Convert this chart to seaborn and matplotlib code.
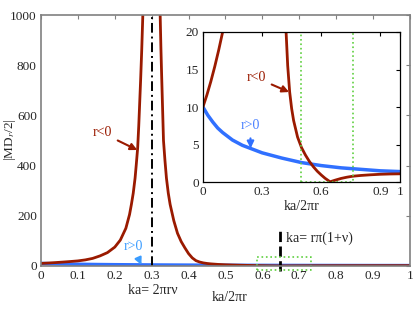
import numpy as np
import matplotlib
matplotlib.use("Agg")
import matplotlib.pyplot as plt
import seaborn as sns

# Данные
ka_red = [0.0, 0.02, 0.04, 0.06, 0.08, 0.1, 0.12, 0.14, 0.16, 0.18, 0.2, 0.215,
          0.23, 0.24, 0.245, 0.25, 0.255, 0.258, 0.262, 0.265, 0.27, 0.273, 0.276, 0.285,
          0.318, 0.323, 0.325, 0.327, 0.332, 0.336, 0.34, 0.345, 0.35, 0.36, 0.37,
          0.38, 0.39, 0.40, 0.41, 0.42, 0.43, 0.44, 0.45, 0.46, 0.48, 0.50, 0.52,
          0.54, 0.56, 0.58, 0.60, 0.62, 0.645, 0.67, 0.70, 0.73, 0.76, 0.80, 0.85,
          0.90, 0.95, 1.0]
md_red = [10, 11.6, 13.4, 15.4, 17.6, 20, 24, 30, 40, 53, 75, 103,
          150, 205, 245, 290, 350, 400, 470, 560, 740, 860, 1000, 1800,
          1800, 1000, 870, 760, 500, 420, 350, 290, 245, 180, 130,
          97, 72, 49, 32, 21, 15.5, 12, 9.8, 8.2, 6.0, 4.6, 3.6,
          2.75, 2.05, 1.45, 0.95, 0.5, 0.04, 0.25, 0.48, 0.65, 0.78, 0.88, 0.97,
          1.04, 1.08, 1.1]

ka_blue = [0.0, 0.025, 0.05, 0.075, 0.1, 0.15, 0.2, 0.25, 0.3, 0.4, 0.5, 0.6,
           0.7, 0.8, 0.9, 1.0]
md_blue = [10, 8.9, 8.0, 7.2, 6.6, 5.6, 4.9, 4.4, 3.9, 3.2, 2.6, 2.2,
           1.9, 1.7, 1.5, 1.4]

main_xticks = [0, 0.1, 0.2, 0.3, 0.4, 0.5, 0.6, 0.7, 0.8, 0.9, 1]
main_xlabels = ["0", "0.1", "0.2", "0.3", "0.4", "0.5", "0.6", "0.7", "0.8", "0.9", "1"]
main_yticks = [0, 200, 400, 600, 800, 1000]
inset_xticks = [0, 0.3, 0.6, 0.9, 1]
inset_xlabels = ["0", "0.3", "0.6", "0.9", "1"]
inset_yticks = [0, 5, 10, 15, 20]

RED = "#9a1a00"
BLUE = "#3070ff"
LBLUE = "#3a9cff"
GREEN = "#5fcf40"

sns.set_style("white")
plt.rcParams["font.family"] = ["Liberation Serif", "DejaVu Serif"]
plt.rcParams["mathtext.fontset"] = "stix"
plt.rcParams["font.size"] = 9.5

fig = plt.figure(figsize=(4.15, 3.2), dpi=100)
ax = fig.add_axes([0.0988, 0.169, 0.889, 0.784])

sns.lineplot(x=ka_blue, y=md_blue, color=BLUE, lw=2.5, ax=ax)
sns.lineplot(x=ka_red, y=md_red, color=RED, lw=2.0, ax=ax)
ax.axvline(0.3, color="k", lw=1.4, dashes=(5, 2, 1, 2))
ax.plot([0.649, 0.649], [-20, 151], "k--", lw=2, clip_on=False)
ax.plot([0.586, 0.731, 0.731, 0.586, 0.586], [-16, -16, 35, 35, -16], ":",
        color=GREEN, lw=1.2, clip_on=False)

ax.set_xlim(0, 1)
ax.set_ylim(0, 1000)
ax.set_xticks(main_xticks)
ax.set_xticklabels(main_xlabels)
ax.set_yticks(main_yticks)
ax.tick_params(direction="in", length=3, color="#808080", top=True, right=True,
               labelsize=9.5, pad=3)
for s in ax.spines.values():
    s.set_color("#808080")
    s.set_linewidth(1.2)
ax.set_xlabel("")
ax.set_ylabel("")
fig.text(10 / 415, 1 - 140 / 320, r"|MD$_r$/2|", rotation=90, ha="center",
         va="center", fontsize=9.5)

ax.text(0.512, -0.127, "ka/2πr", transform=ax.transAxes, ha="center", va="center",
        fontsize=10)
ax.text(0.303, -0.096, "ka= 2πrν", transform=ax.get_xaxis_transform(),
        ha="center", va="center", fontsize=10)
ax.text(0.663, 112, "ka= rπ(1+ν)", ha="left", va="center", fontsize=10)

ax.annotate("r<0", xy=(0.261, 462), xytext=(0.166, 530), color=RED,
            ha="center", va="center", fontsize=10,
            arrowprops=dict(arrowstyle="-|>", color=RED, lw=1.5, shrinkA=2, shrinkB=0))
ax.annotate("r>0", xy=(0.272, 4), xytext=(0.25, 76), color=LBLUE,
            ha="center", va="center", fontsize=10,
            arrowprops=dict(arrowstyle="-|>", color=LBLUE, lw=1.5, shrinkA=2, shrinkB=0))

# Вставка
axi = fig.add_axes([0.489, 0.431, 0.475, 0.469])
sns.lineplot(x=ka_blue, y=md_blue, color=BLUE, lw=2.5, ax=axi)
sns.lineplot(x=ka_red, y=md_red, color=RED, lw=2.0, ax=axi)
axi.plot([0.5, 0.5, 0.76, 0.76], [0, 20, 20, 0], ":", color=GREEN, lw=1.2)
axi.plot([0.5, 0.76], [0, 0], ":", color=GREEN, lw=1.2, clip_on=False)
axi.set_xlim(0, 1)
axi.set_ylim(0, 20)
axi.set_xticks(inset_xticks)
axi.set_xticklabels(inset_xlabels)
axi.set_yticks(inset_yticks)
axi.tick_params(direction="in", length=3, color="k", top=True, right=True,
                labelsize=9.5, pad=3)
for s in axi.spines.values():
    s.set_color("k")
    s.set_linewidth(0.9)
axi.set_xlabel("ka/2πr", fontsize=10, labelpad=1)
axi.set_ylabel("")

axi.annotate("r<0", xy=(0.437, 12), xytext=(0.27, 13.9), color=RED,
             ha="center", va="center", fontsize=10,
             arrowprops=dict(arrowstyle="-|>", color=RED, lw=1.5, shrinkA=2, shrinkB=0))
axi.annotate("r>0", xy=(0.242, 4.5), xytext=(0.24, 7.5), color="#4a80ff",
             ha="center", va="center", fontsize=10,
             arrowprops=dict(arrowstyle="-|>", color=BLUE, lw=1.5, shrinkA=2, shrinkB=0))

plt.savefig("out.png", dpi=100)
